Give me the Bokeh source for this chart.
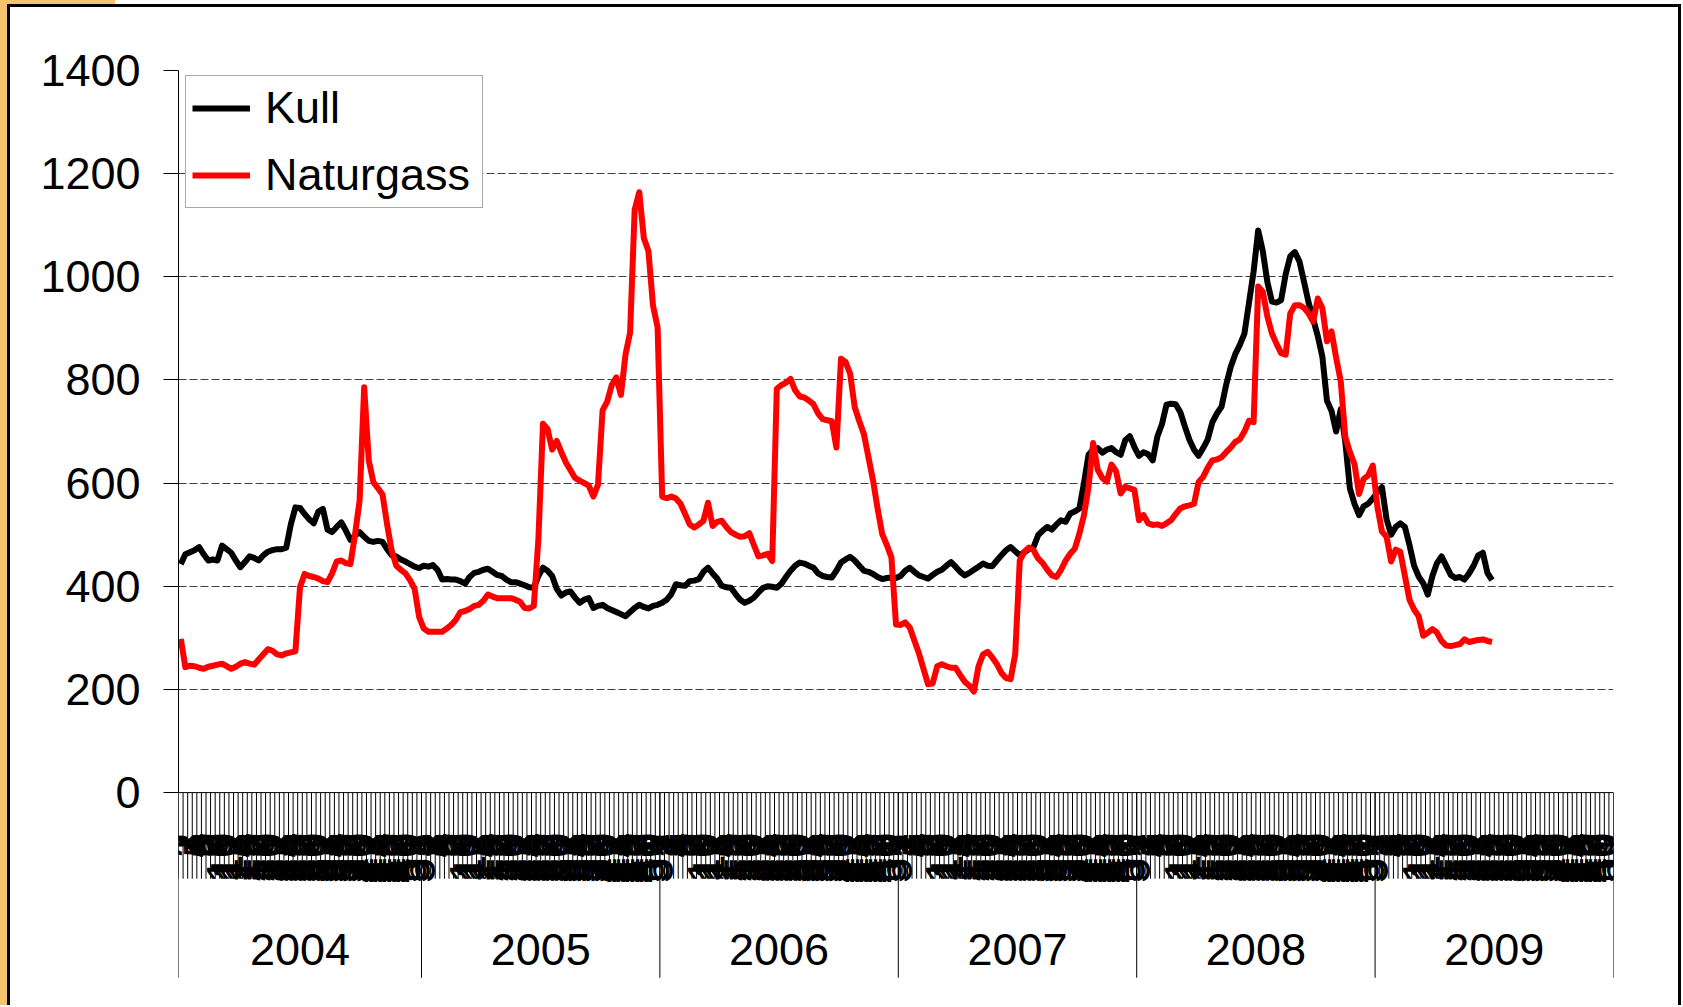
import math
from bokeh.plotting import figure
from bokeh.models import Range1d, FixedTicker, Legend, LegendItem, ColumnDataSource
from bokeh.embed import file_html
from bokeh.resources import INLINE
from bokeh.core.properties import value

# ---------------- data ----------------
years = ["2004", "2005", "2006", "2007", "2008", "2009"]
weeks_per_year = [53, 52, 52, 52, 52, 52]
y_ticks = [0, 200, 400, 600, 800, 1000, 1200, 1400]

kull_2004 = [443, 462, 466, 470, 476, 462, 450, 452, 450, 479,
             472, 465, 450, 437, 447, 458, 455, 450, 460, 467,
             470, 472, 472, 475, 520, 553, 552, 540, 530, 522,
             545, 550, 510, 505, 515, 524, 508, 490, 498, 505,
             496, 488, 486, 488, 486, 472, 460, 458, 452, 448,
             443, 438, 435]
kull_2005 = [440, 438, 441, 432, 413, 414, 413, 413, 410, 405,
             418, 426, 428, 432, 434, 428, 422, 420, 413, 408,
             408, 405, 402, 398, 397, 420, 436, 430, 420, 395,
             382, 388, 390, 378, 368, 374, 377, 358, 362, 364,
             358, 354, 350, 346, 342, 350, 358, 364, 360, 357,
             362, 364]
kull_2006 = [368, 374, 385, 404, 402, 401, 410, 411, 414, 428,
             436, 425, 415, 401, 398, 397, 385, 374, 368, 372,
             378, 388, 397, 400, 399, 397, 405, 418, 430, 440,
             446, 444, 440, 436, 425, 420, 418, 417, 430, 446,
             452, 457, 450, 440, 430, 428, 424, 418, 414, 416,
             417, 416]
kull_2007 = [420, 430, 436, 428, 421, 418, 415, 422, 428, 432,
             440, 447, 438, 428, 421, 426, 432, 438, 444, 440,
             439, 450, 460, 470, 476, 468, 460, 466, 472, 476,
             499, 508, 515, 510, 520, 528, 525, 541, 545, 551,
             600, 655, 665, 668, 659, 665, 668, 660, 655, 683,
             691, 670]
kull_2008 = [653, 660, 656, 644, 690, 714, 752, 754, 753, 738,
             710, 684, 665, 653, 668, 685, 718, 735, 748, 790,
             825, 850, 868, 890, 950, 1010, 1090, 1050, 990, 952,
             950, 955, 1005, 1040, 1048, 1030, 990, 950, 918, 885,
             845, 760, 740, 700, 743, 680, 590, 560, 538, 555,
             560, 570]
kull_2009 = [582, 592, 530, 500, 515, 522, 515, 480, 440, 419,
             406, 384, 420, 445, 458, 440, 422, 416, 418, 413,
             425, 440, 460, 465, 426, 412]

gass_2004 = [298, 243, 246, 245, 242, 240, 244, 246, 248, 250,
             245, 240, 244, 250, 253, 250, 248, 258, 268, 278,
             275, 268, 266, 270, 272, 274, 398, 424, 420, 418,
             415, 410, 408, 425, 448, 450, 445, 443, 500, 566,
             786, 644, 602, 590, 578, 520, 469, 440, 432, 425,
             412, 395, 340]
gass_2005 = [318, 312, 312, 312, 312, 318, 325, 335, 350, 352,
             356, 362, 364, 372, 384, 380, 377, 377, 377, 377,
             374, 370, 358, 357, 362, 492, 715, 705, 665, 682,
             660, 640, 625, 610, 605, 600, 595, 574, 597, 741,
             758, 790, 805, 771, 849, 892, 1130, 1164, 1075, 1050,
             944, 902]
gass_2006 = [574, 571, 574, 570, 560, 540, 520, 514, 520, 527,
             562, 517, 525, 527, 515, 505, 500, 496, 497, 503,
             480, 458, 460, 463, 449, 783, 790, 795, 802, 780,
             768, 766, 760, 753, 735, 724, 722, 720, 669, 841,
             835, 812, 747, 720, 695, 650, 605, 550, 501, 480,
             456, 326]
gass_2007 = [325, 330, 320, 295, 270, 240, 210, 212, 245, 249,
             245, 242, 242, 228, 215, 207, 196, 245, 268, 273,
             262, 249, 232, 222, 220, 268, 450, 467, 475, 470,
             454, 445, 432, 421, 418, 432, 450, 463, 473, 502,
             538, 593, 678, 626, 610, 603, 636, 623, 580, 593,
             590, 587]
gass_2008 = [528, 538, 522, 519, 520, 517, 522, 528, 540, 551,
             555, 557, 560, 602, 612, 630, 644, 646, 650, 660,
             669, 680, 685, 700, 721, 718, 981, 971, 923, 890,
             870, 852, 849, 929, 945, 945, 940, 929, 913, 958,
             939, 875, 894, 843, 798, 689, 660, 637, 579, 608,
             615, 634]
gass_2009 = [554, 506, 496, 448, 471, 467, 420, 374, 355, 342,
             304, 310, 317, 310, 294, 285, 284, 286, 288, 297,
             292, 294, 296, 297, 294, 292]

kull_by_year = [kull_2004, kull_2005, kull_2006, kull_2007, kull_2008, kull_2009]
gass_by_year = [gass_2004, gass_2005, gass_2006, gass_2007, gass_2008, gass_2009]

# ---------------- category positions ----------------
year_start = [0]
for n in weeks_per_year:
    year_start.append(year_start[-1] + n)
n_cat = year_start[-1]

kx, ky, gx, gy = [], [], [], []
for start, kv, gv in zip(year_start, kull_by_year, gass_by_year):
    kx += [start + i + 0.5 for i in range(len(kv))]
    ky += kv
    gx += [start + i + 0.5 for i in range(len(gv))]
    gy += gv

week_x, week_text = [], []
for start, n in zip(year_start, weeks_per_year):
    for w in range(n):
        week_x.append(start + w + 0.5)
        week_text.append(str(w + 1))

year_x = [(a + b) / 2 for a, b in zip(year_start[:-1], year_start[1:])]

# ---------------- figure ----------------
FONT = "Liberation Sans"
W, H = 1681, 1005
ORANGE = "#F3C36E"
bg = ", ".join([
    f"linear-gradient({ORANGE},{ORANGE}) 0px 0px / 7px 100% no-repeat",
    f"linear-gradient({ORANGE},{ORANGE}) 0px 0px / 115px 4px no-repeat",
    "linear-gradient(#000,#000) 7px 4px / 3px 100% no-repeat",
    f"linear-gradient(#000,#000) 7px 4px / {W - 7}px 3px no-repeat",
    f"linear-gradient(#000,#000) {W - 3}px 4px / 3px 100% no-repeat",
    "#ffffff",
])

p = figure(width=W, height=H, output_backend="svg", toolbar_location=None,
           x_range=Range1d(0, n_cat), y_range=Range1d(-374, 1400),
           x_axis_location=None, min_border_left=178, min_border_right=W - 1613,
           min_border_top=70, min_border_bottom=H - 985,
           border_fill_color=None, background_fill_color="white",
           styles={"background": bg})
p.outline_line_color = None

yax = p.yaxis[0]
yax.ticker = FixedTicker(ticks=y_ticks)
yax.bounds = (0, 1400)
yax.axis_line_color = "black"
yax.axis_line_width = 1
yax.major_tick_out = 15
yax.major_tick_in = 0
yax.minor_tick_line_color = None
yax.major_tick_line_color = "black"
yax.major_label_text_font = FONT
yax.major_label_text_font_size = "45px"
yax.major_label_text_color = "black"
yax.major_label_standoff = 23

p.ygrid.ticker = FixedTicker(ticks=y_ticks[1:])
p.ygrid.grid_line_color = "#404040"
p.ygrid.grid_line_dash = "8 3"
p.ygrid.grid_line_width = 1
p.xgrid.grid_line_color = None

# category axis: hatch of tick marks, axis line, year separators
bounds = list(range(0, n_cat + 1))
p.segment(x0=bounds, y0=[0] * len(bounds), x1=bounds, y1=[-167] * len(bounds),
          line_color="black", line_width=1)
p.segment(x0=[0], y0=[0], x1=[n_cat], y1=[0], line_color="black", line_width=1)
p.segment(x0=year_start, y0=[0] * len(year_start), x1=year_start,
          y1=[-359] * len(year_start), line_color="black", line_width=1)

p.text(x=week_x, y=[-78] * len(week_x), text=week_text, angle=math.pi / 2,
       text_align="right", text_baseline="middle", text_font=value(FONT),
       text_font_size="45px", text_color="black")
p.text(x=year_x, y=[-304] * len(year_x), text=years, text_align="center",
       text_baseline="middle", text_font=value(FONT), text_font_size="45px",
       text_color="black")

src_k = ColumnDataSource(dict(x=kx, y=ky))
src_g = ColumnDataSource(dict(x=gx, y=gy))
r_k = p.line("x", "y", source=src_k, line_color="black", line_width=6, line_join="round")
r_g = p.line("x", "y", source=src_g, line_color="#FF0000", line_width=6, line_join="round")

legend = Legend(items=[LegendItem(label="Kull", renderers=[r_k]),
                       LegendItem(label="Naturgass", renderers=[r_g])],
                location=(7, 777), label_text_font=FONT, label_text_font_size="45px",
                label_text_color="black", glyph_width=58, label_standoff=15,
                label_width=211, spacing=15, padding=6, margin=0,
                border_line_color="#555555", border_line_width=1.5,
                background_fill_color="white", background_fill_alpha=1.0)
p.add_layout(legend)

open("out.html", "w").write(file_html(p, INLINE))
